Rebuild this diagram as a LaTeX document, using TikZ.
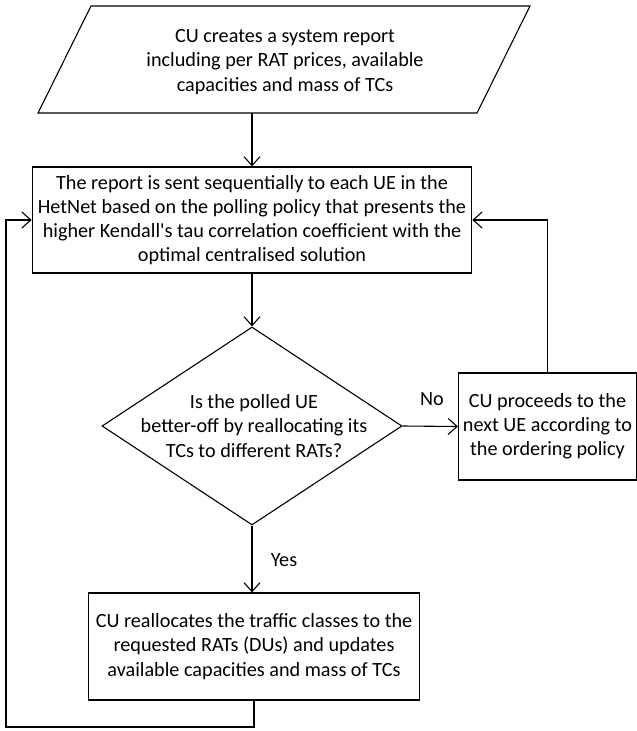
\documentclass[tikz,border=0pt]{standalone}
\usepackage{fontspec}
\setmainfont{Carlito}
\usetikzlibrary{arrows.meta,shapes.geometric}
\begin{document}
\begin{tikzpicture}[x=1pt,y=-1pt,line width=1.1pt,
  fnt/.style={font=\fontsize{20.2}{24.2}\selectfont},
  box/.style={draw, rectangle, align=center, inner sep=0pt, fnt},
  txt/.style={align=center, inner sep=0pt, fnt},
  decision/.style={draw, diamond, inner sep=0pt, minimum width=300pt, minimum height=198pt},
  arr/.style={-{Straight Barb[length=9pt,width=16pt]}}]
\useasboundingbox (0,0) rectangle (637,731);
% input parallelogram
\draw (91,6) -- (530,6) -- (477,113) -- (38,113) -- cycle;
\node[txt] (report) at (285,62) {CU creates a system report\\including per RAT prices, available\\capacities and mass of TCs};
\coordinate (pb) at (252,113);
% boxes
\node[box, minimum width=439.5pt, minimum height=106pt] (send) at (252,220) {The report is sent sequentially to each UE in the\\HetNet based on the polling policy that presents the\\higher Kendall\textquotesingle s tau correlation coefficient with the\\optimal centralised solution};
\node[decision] (dec) at (252,426) {};
\node[txt] (dectext) at (254,426) {Is the polled UE\\better-off by reallocating its\\TCs to different RATs?};
\node[box, minimum width=178pt, minimum height=107pt] (next) at (547.5,426.5) {CU proceeds to the\\next UE according to\\the ordering policy};
\node[box, minimum width=331pt, minimum height=107pt] (realloc) at (254,646.5) {CU reallocates the traffic classes to the\\requested RATs (DUs) and updates\\available capacities and mass of TCs};
\coordinate (loop) at (6,727);
% connectors
\draw[arr] (pb) -- (send.north);
\draw[arr] (send.south) -- (dec.north);
\draw[arr] (dec.east) -- (next.west);
\draw[arr] (dec.south) -- (dec.south |- realloc.north);
\draw[arr] (next.north) |- (send.east);
\draw[arr] (realloc.south) |- (loop) |- (send.west);
% labels
\node[txt] (no) at (432,399) {No};
\node[txt] (yes) at (284,560) {Yes};
\end{tikzpicture}
\end{document}
